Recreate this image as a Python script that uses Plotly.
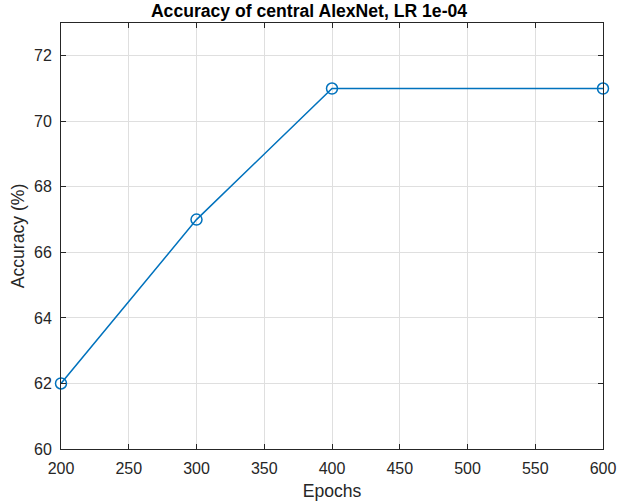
import plotly.graph_objects as go

epochs = [200, 300, 400, 600]
accuracy = [62, 67, 71, 71]
x_ticks = [200, 250, 300, 350, 400, 450, 500, 550, 600]
y_ticks = [60, 62, 64, 66, 68, 70, 72]

fig = go.Figure()
fig.add_trace(go.Scatter(
    x=epochs, y=accuracy, mode="lines+markers",
    line=dict(color="#0072BD", width=1.5),
    marker=dict(symbol="circle-open", size=11, color="#0072BD", line=dict(width=1.5, color="#0072BD")),
    cliponaxis=False,
))

font = "Liberation Sans, Arial, Helvetica, sans-serif"
axis_common = dict(
    showline=True, linecolor="#262626", linewidth=1, mirror="ticks",
    ticks="inside", ticklen=5, tickcolor="#262626",
    showgrid=True, gridcolor="#dfdfdf", gridwidth=1,
    zeroline=False, automargin=False,
    tickfont=dict(family=font, size=16, color="#262626"),
)

fig.update_layout(
    width=618, height=503,
    margin=dict(l=61, r=14.5, t=22.5, b=53.5, autoexpand=False),
    paper_bgcolor="white", plot_bgcolor="white",
    showlegend=False,
    title=dict(text="<b>Accuracy of central AlexNet, LR 1e-04</b>", x=0.5, xanchor="center",
               y=1 - 11 / 503, yanchor="middle", font=dict(family=font, size=17.6, color="black")),
    xaxis=dict(range=[200, 600], tickvals=x_ticks, ticklabelstandoff=5,
               title=dict(text="Epochs", standoff=8,
               font=dict(family=font, size=17.6, color="#262626")), **axis_common),
    yaxis=dict(range=[60, 73], tickvals=y_ticks, ticklabelstandoff=5,
               title=dict(text="Accuracy (%)", standoff=4,
               font=dict(family=font, size=17.6, color="#262626")), **axis_common),
)

fig.write_html("out.html")
